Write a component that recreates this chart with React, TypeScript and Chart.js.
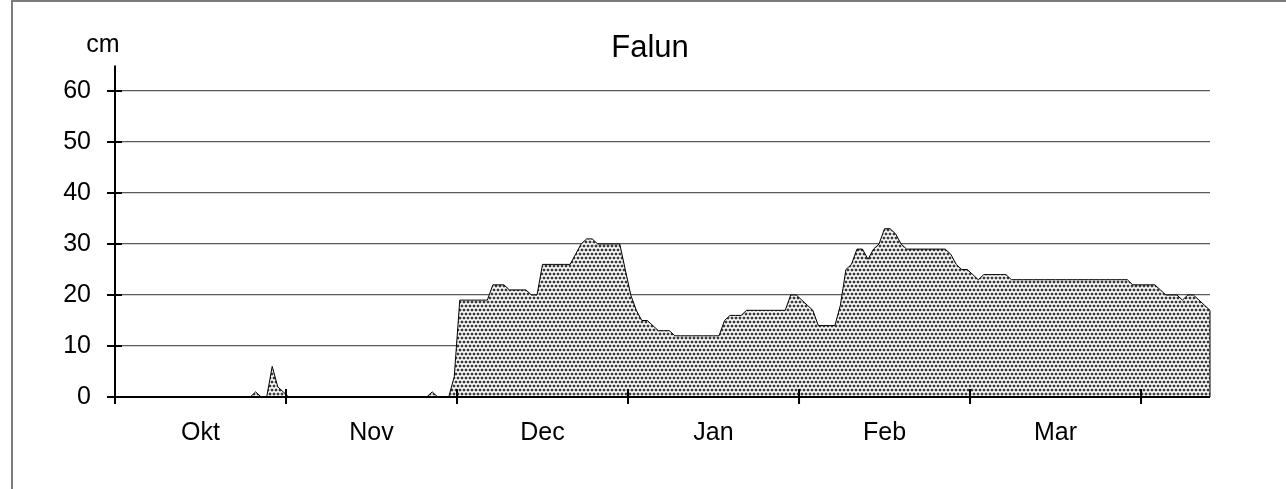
import React, { useEffect, useRef } from "react";
import { Chart, registerables } from "chart.js";

Chart.register(...registerables);

const chartTitle = "Falun";
const unitLabel = "cm";
const monthLabels = ["Okt", "Nov", "Dec", "Jan", "Feb", "Mar"];
const daysPerMonth = 31;
const yTicks = [0, 10, 20, 30, 40, 50, 60];
const yMax = 65;

// daily snow depth (cm), Okt 1 onwards
const snowDepth: number[] = [
  // 0-24
  0, 0, 0, 0, 0, 0, 0, 0, 0, 0, 0, 0, 0, 0, 0, 0, 0, 0, 0, 0, 0, 0, 0, 0, 0,
  // 25-30
  1, 0, 0, 6, 2, 1,
  // 31-56
  0, 0, 0, 0, 0, 0, 0, 0, 0, 0, 0, 0, 0, 0, 0, 0, 0, 0, 0, 0, 0, 0, 0, 0, 0, 0,
  // 57-61
  1, 0, 0, 0, 4,
  // 62-67
  19, 19, 19, 19, 19, 19,
  // 68-76
  22, 22, 22, 21, 21, 21, 21, 20, 20,
  // 77-82
  26, 26, 26, 26, 26, 26,
  // 83-91
  28, 30, 31, 31, 30, 30, 30, 30, 30,
  // 92-100
  25, 20, 17, 15, 15, 14, 13, 13, 13,
  // 101-109
  12, 12, 12, 12, 12, 12, 12, 12, 12,
  // 110-121
  15, 16, 16, 16, 17, 17, 17, 17, 17, 17, 17, 17,
  // 122-131
  20, 20, 19, 18, 17, 14, 14, 14, 14, 18,
  // 132-142
  25, 26, 29, 29, 27, 29, 30, 33, 33, 32, 30,
  // 143-150
  29, 29, 29, 29, 29, 29, 29, 29,
  // 151-161
  28, 26, 25, 25, 24, 23, 24, 24, 24, 24, 24,
  // 162-183
  23, 23, 23, 23, 23, 23, 23, 23, 23, 23, 23, 23, 23, 23, 23, 23, 23, 23, 23, 23, 23, 23,
  // 184-198
  22, 22, 22, 22, 22, 21, 20, 20, 20, 19, 20, 20, 19, 18, 17,
];

const FONT = "'Liberation Sans', Arial, Helvetica, sans-serif";

function makePattern(): CanvasPattern | string {
  const t = document.createElement("canvas");
  t.width = 8;
  t.height = 8;
  const c = t.getContext("2d");
  if (!c) return "#c8c8c8";
  c.fillStyle = "#ffffff";
  c.fillRect(0, 0, 8, 8);
  const dot = (x: number, y: number) => {
    c.fillStyle = "#c4c4c4";
    c.fillRect(x - 1, y, 4, 2);
    c.fillRect(x, y - 1, 2, 4);
    c.fillStyle = "#3a3a3a";
    c.fillRect(x, y, 2, 2);
  };
  dot(1, 1);
  dot(5, 1);
  dot(3, 5);
  dot(7, 5);
  dot(-1, 5);
  const p = c.createPattern(t, "repeat");
  return p || "#c8c8c8";
}

const axesPlugin = {
  id: "excelAxes",
  afterDatasetsDraw(chart: any) {
    const { ctx, chartArea, scales } = chart;
    const xs = scales.x;
    const ys = scales.y;
    ctx.save();
    const last = snowDepth.length - 1;
    ctx.strokeStyle = "#000";
    ctx.lineWidth = 1;
    ctx.beginPath();
    ctx.moveTo(xs.getPixelForValue(last), ys.getPixelForValue(snowDepth[last]));
    ctx.lineTo(xs.getPixelForValue(last), ys.getPixelForValue(0));
    ctx.stroke();

    ctx.lineWidth = 2;
    ctx.strokeStyle = "#000";
    const y0 = ys.getPixelForValue(0);
    ctx.beginPath();
    ctx.moveTo(chartArea.left, chartArea.top);
    ctx.lineTo(chartArea.left, y0);
    ctx.moveTo(chartArea.left, y0);
    ctx.lineTo(chartArea.right, y0);
    ctx.stroke();
    ctx.beginPath();
    yTicks.forEach((v) => {
      const py = ys.getPixelForValue(v);
      ctx.moveTo(chartArea.left - 8, py);
      ctx.lineTo(chartArea.left + 7, py);
    });
    for (let k = 0; k <= monthLabels.length; k++) {
      const px = xs.getPixelForValue(k * daysPerMonth - 0.5);
      ctx.moveTo(px, y0 - 8);
      ctx.lineTo(px, y0 + 7);
    }
    ctx.stroke();
    ctx.restore();
  },
  afterDraw(chart: any) {
    const { ctx } = chart;
    ctx.save();
    ctx.fillStyle = "#000";
    ctx.textAlign = "center";
    ctx.textBaseline = "alphabetic";
    ctx.font = `31px ${FONT}`;
    ctx.fillText(chartTitle, 650, 57);
    ctx.font = `25px ${FONT}`;
    ctx.fillText(unitLabel, 103, 52);
    ctx.restore();
  },
};

export default function App() {
  const ref = useRef<HTMLCanvasElement | null>(null);

  useEffect(() => {
    if (!ref.current) return;
    const pattern = makePattern();
    const chart = new Chart(ref.current, {
      type: "line",
      data: {
        datasets: [
          {
            label: chartTitle,
            data: snowDepth.map((v, i) => ({ x: i, y: v })),
            borderColor: "#000",
            borderWidth: 1,
            backgroundColor: pattern as any,
            fill: "origin",
            pointRadius: 0,
            tension: 0,
          },
        ],
      },
      options: {
        animation: false,
        responsive: false,
        maintainAspectRatio: false,
        layout: { padding: { left: 0, right: 76, top: 65.5, bottom: 0 } },
        plugins: {
          legend: { display: false },
          title: { display: false },
          tooltip: { enabled: false },
        },
        scales: {
          x: {
            type: "linear",
            min: -0.5,
            max: snowDepth.length - 1,
            grid: { display: false, drawTicks: false },
            border: { display: false },
            afterBuildTicks: (scale: any) => {
              scale.ticks = monthLabels.map((_, k) => ({ value: k * daysPerMonth + 15 }));
            },
            afterFit: (scale: any) => {
              scale.height = 92;
            },
            ticks: {
              autoSkip: false,
              maxRotation: 0,
              padding: 21,
              color: "#000",
              font: { family: FONT, size: 25 },
              callback: (_v: any, idx: number) => monthLabels[idx],
            },
          },
          y: {
            type: "linear",
            min: 0,
            max: yMax,
            grid: {
              drawTicks: false,
              color: (c: any) => (c.tick && c.tick.value === 0 ? "rgba(0,0,0,0)" : "#5a5a5a"),
              lineWidth: 1.3,
            },
            border: { display: false },
            afterBuildTicks: (scale: any) => {
              scale.ticks = yTicks.map((v) => ({ value: v }));
            },
            afterFit: (scale: any) => {
              scale.width = 115;
            },
            ticks: {
              padding: 24,
              color: "#000",
              font: { family: FONT, size: 25 },
              callback: (v: any) => String(v),
            },
          },
        },
      },
      plugins: [axesPlugin],
    });
    return () => chart.destroy();
  }, []);

  return (
    <div style={{ position: "absolute", left: 0, top: 0, width: 1286, height: 489, background: "#fff", overflow: "hidden" }}>
      <canvas ref={ref} width={1286} height={489} style={{ position: "absolute", left: 0, top: 0 }} />
      <div
        style={{
          position: "absolute",
          left: 11,
          top: 0,
          width: 1400,
          height: 600,
          borderLeft: "2px solid #7c7c7c",
          borderTop: "2px solid #7c7c7c",
          pointerEvents: "none",
        }}
      />
    </div>
  );
}
